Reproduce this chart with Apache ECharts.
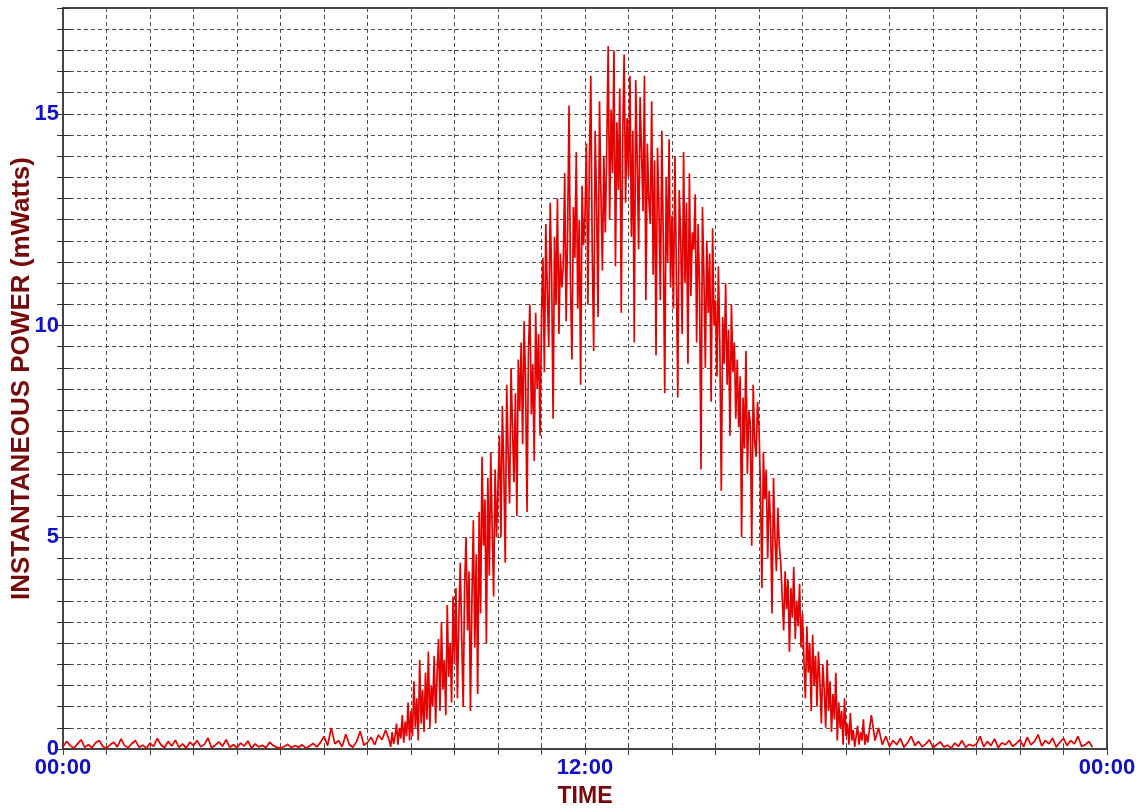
<!DOCTYPE html>
<html>
<head>
<meta charset="utf-8">
<script src="https://cdn.jsdelivr.net/npm/echarts@6/dist/echarts.min.js"></script>
<style>
  html, body { margin: 0; padding: 0; background: #fff; }
  #main { width: 1148px; height: 808px; }
</style>
</head>
<body>
<div id="main"></div>
<script>
// readings in mWatts
// night before sunrise: every 5 min from 00:00
const amStartMin = 0;
const amStepMin = 5;
const amPower = [
  0.05,0.18,0.08,0.02,0.12,0.22,0.04,0.1,0.03,0.15,0.2,0.06,
  0.02,0.1,0.16,0.05,0.24,0.08,0.03,0.13,0.2,0.04,0.09,0.02,
  0.14,0.06,0.25,0.1,0.03,0.18,0.07,0.21,0.04,0.12,0.02,0.16,
  0.08,0.2,0.05,0.11,0.26,0.03,0.09,0.17,0.06,0.22,0.04,0.1,
  0.03,0.14,0.07,0.19,0.02,0.12,0.05,0.09,0.03,0.16,0.08,0.04,
  0.02,0.06,0.11,0.03,0.08,0.04,0.1,0.02,0.07,0.13,0.05,0.15,
  0.3,0.08,0.5,0.12,0.2,0.05,0.35,0.1,0.04,0.18,0.42,0.09,
  0.15,0.28,0.1,0.33,0.22,0.45
];

// daytime: every 2 min from 07:30
const dayStartMin = 450;
const dayStepMin = 2;
const dayPower = [
  0.2,0.05,0.4,0.12,0.3,0.6,0.1,0.5,0.25,0.8,0.15,0.65,0.3,1.1,0.2,
  0.9,0.3,1.6,0.5,1.2,0.2,2.1,0.6,1.4,0.4,1.8,0.7,2.3,0.5,1.5,
  1.0,2.2,0.6,1.8,2.6,0.9,3.0,1.4,2.1,0.8,3.4,1.7,2.5,1.1,3.6,
  2.0,3.8,1.2,3.1,4.4,2.6,1.0,3.9,5.0,2.8,4.2,0.9,3.5,5.4,2.4,
  4.6,1.3,5.6,3.2,6.9,4.8,5.9,2.5,6.4,4.1,7.0,5.2,3.6,6.6,5.0,
  6.2,7.4,5.0,8.1,6.6,4.4,8.6,7.0,5.8,9.0,7.6,6.3,8.4,5.5,9.2,
  8.0,9.6,7.2,10.1,8.7,5.6,9.4,10.5,7.9,9.1,6.8,10.3,8.5,9.8,7.4,
  10.2,11.6,8.9,12.4,10.8,9.5,12.9,11.2,7.8,12.1,10.5,13.0,9.8,11.7,10.9,
  11.4,13.6,10.1,12.2,15.2,11.0,9.2,12.8,11.6,14.1,10.4,12.5,8.6,13.3,11.9,
  12.6,14.3,10.5,13.8,15.9,11.7,9.4,14.6,12.9,10.2,15.3,13.1,11.3,14.0,12.2,
  14.2,16.6,12.5,15.1,13.6,16.5,11.4,14.8,13.2,15.6,10.3,14.4,16.4,12.9,14.9,
  13.5,15.9,12.1,14.6,9.6,15.8,13.9,11.8,15.4,14.1,12.7,15.9,10.6,14.3,13.0,
  12.4,15.3,11.2,13.9,9.3,14.2,12.8,10.6,14.6,12.0,8.4,13.5,11.5,14.4,10.9,
  12.6,10.4,14.0,11.3,8.3,13.2,12.1,9.8,14.1,11.0,12.9,9.1,13.6,10.7,12.2,
  11.8,13.1,9.6,12.4,10.9,6.6,12.8,11.2,9.0,12.0,10.3,11.7,8.2,12.3,10.0,
  10.6,8.8,11.4,9.5,6.1,10.2,9.1,11.0,8.6,9.9,7.4,10.5,8.9,9.6,7.8,
  9.2,7.6,8.8,5.0,8.3,7.1,9.4,6.5,8.0,7.7,4.8,8.6,7.3,6.9,8.2,
  7.6,6.2,3.8,7.0,5.9,6.6,4.5,6.1,5.3,3.2,6.4,5.0,4.2,5.7,4.8,
  4.4,3.6,2.8,4.2,3.3,4.0,2.3,3.8,3.1,4.3,2.6,3.5,2.9,3.9,2.4,
  3.2,2.1,1.2,2.9,1.8,2.5,0.9,2.7,1.5,2.2,1.0,2.3,1.6,0.6,2.0,
  1.4,0.5,2.1,0.9,1.6,0.4,1.3,0.7,1.8,0.2,1.1,0.5,0.9,0.1,1.2,
  0.3,0.6,0.1,0.85,0.2,0.45,0.05,0.3,0.55,0.1,0.4,0.2,0.7,0.1,0.35
];

// evening/night: every 5 min from 18:30
const pmStartMin = 1110;
const pmStepMin = 5;
const pmPower = [
  0.15,0.8,0.2,0.5,0.1,0.3,
  0.06,0.2,0.1,0.25,0.04,0.15,0.3,0.08,0.18,0.05,0.12,0.22,
  0.03,0.1,0.17,0.05,0.09,0.02,0.14,0.06,0.2,0.04,0.11,0.07,
  0.12,0.3,0.05,0.18,0.08,0.24,0.03,0.15,0.1,0.2,0.06,0.13,
  0.22,0.05,0.28,0.1,0.18,0.34,0.07,0.2,0.12,0.26,0.04,0.16,
  0.25,0.08,0.2,0.12,0.3,0.06,0.1,0.18,0.04
];

const xTickHours = [0, 12, 24];
const xTickLabels = ['00:00', '12:00', '00:00'];
const yTickValues = [0, 5, 10, 15];

function toPoints(vals, start, step) {
  return vals.map((v, i) => [(start + i * step) / 60, v]);
}
const points = []
  .concat(toPoints(amPower, amStartMin, amStepMin))
  .concat(toPoints(dayPower, dayStartMin, dayStepMin))
  .concat(toPoints(pmPower, pmStartMin, pmStepMin));

const FONT = '"Liberation Sans", Arial, sans-serif';
const BLUE = '#1010cc';
const DARKRED = '#760a0a';
const gridDash = { color: '#505050', width: 1, type: [4, 3] };

const chart = echarts.init(document.getElementById('main'));
chart.setOption({
  backgroundColor: '#fff',
  animation: false,
  grid: {
    left: 63, right: 41, top: 8, bottom: 59,
    show: true, borderColor: '#444', borderWidth: 2,
    outerBoundsMode: 'none',
  },
  xAxis: [
    {
      type: 'value',
      min: 0, max: 24, interval: 1,
      name: 'TIME',
      nameLocation: 'middle',
      nameGap: 36,
      nameTextStyle: { color: DARKRED, fontFamily: FONT, fontWeight: 'bold', fontSize: 23 },
      axisLine: { show: true, lineStyle: { color: '#444', width: 2 } },
      axisTick: { show: true, inside: true, length: 5, lineStyle: { color: '#444' } },
      axisLabel: {
        color: BLUE, fontFamily: FONT, fontWeight: 'bold', fontSize: 22, margin: 8,
        formatter: (v) => {
          const k = xTickHours.indexOf(v);
          return k >= 0 ? xTickLabels[k] : '';
        },
      },
      splitLine: { show: true, lineStyle: gridDash },
    },
    {
      type: 'value', position: 'top',
      min: 0, max: 24, interval: 1,
      axisLine: { show: false },
      axisTick: { show: true, inside: true, length: 6, lineStyle: { color: '#444' } },
      axisLabel: { show: false },
      splitLine: { show: false },
    },
  ],
  yAxis: [
    {
      type: 'value',
      min: 0, max: 17.5, interval: 0.5,
      name: 'INSTANTANEOUS POWER (mWatts)',
      nameLocation: 'middle',
      nameGap: 28,
      nameMoveOverlap: false,
      nameRotate: 90,
      nameTextStyle: { color: DARKRED, fontFamily: FONT, fontWeight: 'bold', fontSize: 26 },
      axisLine: { show: true, lineStyle: { color: '#444', width: 2 } },
      axisTick: { show: true, inside: true, length: 7, lineStyle: { color: '#333' } },
      axisLabel: {
        color: BLUE, fontFamily: FONT, fontWeight: 'bold', fontSize: 22, margin: 4,
        formatter: (v) => (yTickValues.indexOf(v) >= 0 ? String(v) : ''),
      },
      splitLine: { show: true, lineStyle: gridDash },
    },
    {
      type: 'value', position: 'right',
      min: 0, max: 17.5, interval: 0.5,
      axisLine: { show: false },
      axisTick: { show: true, inside: true, length: 6, lineStyle: { color: '#333' } },
      axisLabel: { show: false },
      splitLine: { show: false },
    },
  ],
  series: [
    {
      name: 'power',
      type: 'line',
      data: points,
      showSymbol: false,
      sampling: null,
      lineStyle: { color: '#e60000', width: 1.7 },
      z: 3,
    },
  ],
});
</script>
</body>
</html>
